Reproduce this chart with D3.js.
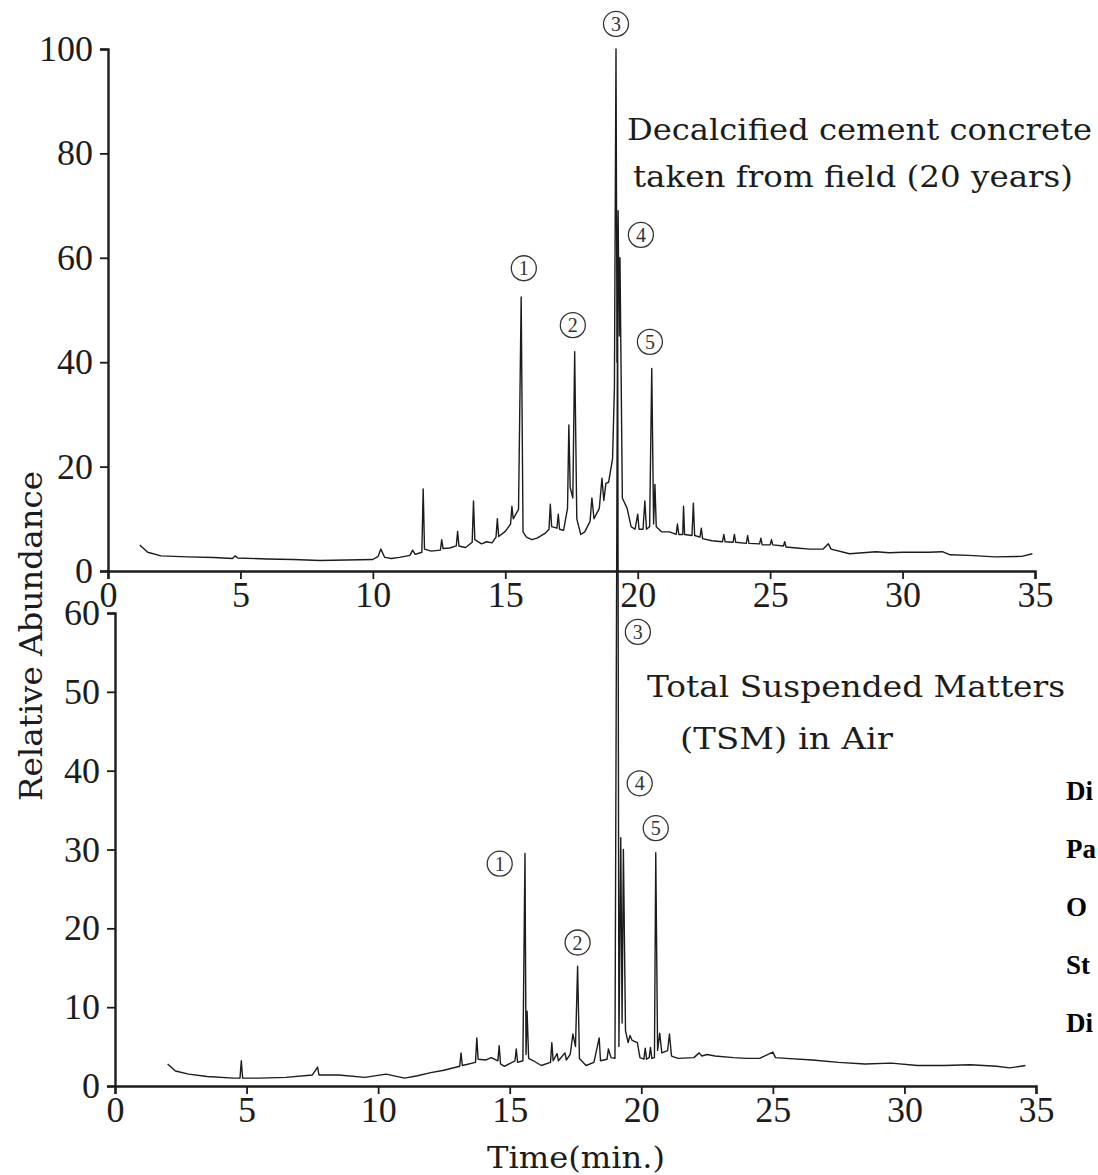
<!DOCTYPE html>
<html>
<head>
<meta charset="utf-8">
<script src="https://cdn.jsdelivr.net/npm/d3@7"></script>
<style>
  body { margin: 0; background: #fff; }
</style>
</head>
<body>
<script>
// Total ion chromatograms: decalcified concrete (top) and TSM in air (bottom)

const w = 1098;
const h = 1175;

// [time (min), relative abundance]
const topTrace = [
  [1.2,5.0],[1.5,3.6],[2.0,2.9],[3.0,2.7],[4.0,2.6],[4.7,2.4],[4.8,2.9],[4.9,2.5],
  [6.0,2.3],[7.0,2.2],[8.0,2.0],[9.0,2.1],[10.0,2.2],[10.2,2.8],[10.3,4.2],[10.45,2.6],
  [10.7,2.4],[11.0,2.6],[11.4,3.0],[11.5,4.0],[11.6,3.2],[11.85,3.6],[11.9,15.7],[11.95,4.2],
  [12.2,3.8],[12.55,4.0],[12.6,6.0],[12.65,4.3],[12.9,4.4],[13.15,4.8],[13.2,7.6],[13.25,4.8],
  [13.5,4.5],[13.75,5.5],[13.8,13.4],[13.85,6.0],[14.1,5.2],[14.3,5.6],[14.5,5.4],[14.65,6.5],
  [14.7,10.0],[14.75,6.6],[15.0,7.6],[15.2,9.0],[15.25,12.4],[15.3,10.0],[15.5,11.8],[15.6,52.5],
  [15.67,7.5],[15.8,6.5],[16.0,6.0],[16.2,6.3],[16.5,7.2],[16.65,8.0],[16.7,12.8],[16.75,8.5],
  [16.95,8.2],[17.0,10.9],[17.05,8.0],[17.2,7.8],[17.35,12.0],[17.4,28.0],[17.45,16.0],[17.55,14.0],
  [17.62,42.0],[17.7,10.0],[17.85,7.0],[18.0,7.5],[18.2,9.5],[18.27,14.0],[18.35,10.0],[18.55,12.0],
  [18.65,17.8],[18.72,13.5],[18.8,16.8],[18.9,17.0],[19.05,21.5],[19.12,35.0],[19.18,100],[19.22,40.0],
  [19.26,69.0],[19.3,45.0],[19.33,60.0],[19.42,14.0],[19.6,12.0],[19.75,8.5],[19.9,8.0],[20.0,10.9],
  [20.05,8.0],[20.2,8.0],[20.27,13.4],[20.33,8.0],[20.45,8.5],[20.53,38.8],[20.6,9.0],[20.65,16.6],
  [20.7,8.5],[20.9,7.5],[21.2,7.5],[21.45,7.0],[21.5,9.0],[21.55,7.0],[21.7,7.0],[21.73,12.4],
  [21.77,7.0],[22.05,6.8],[22.1,13.0],[22.15,6.8],[22.35,6.5],[22.4,8.2],[22.45,6.2],[22.8,5.8],
  [23.2,5.6],[23.25,7.0],[23.3,5.6],[23.6,5.5],[23.65,7.0],[23.7,5.5],[24.1,5.3],[24.15,6.8],
  [24.2,5.3],[24.6,5.2],[24.65,6.3],[24.7,5.0],[25.0,5.0],[25.05,6.0],[25.1,5.0],[25.5,4.8],
  [25.55,5.6],[25.6,4.6],[26.0,4.4],[26.5,4.2],[27.0,4.2],[27.2,5.2],[27.3,4.2],[28.0,3.3],
  [28.5,3.5],[29.0,3.7],[29.5,3.5],[30.0,3.6],[31.0,3.6],[31.5,3.7],[31.8,3.1],[32.5,3.0],
  [33.5,2.7],[34.5,2.8],[34.9,3.3]
];

const bottomTrace = [
  [2.0,2.8],[2.3,1.9],[2.8,1.5],[3.5,1.2],[4.5,1.0],[4.75,1.0],[4.8,3.2],[4.85,1.0],
  [5.5,1.0],[6.5,1.1],[7.5,1.4],[7.7,2.4],[7.75,1.4],[8.5,1.4],[9.5,1.1],[10.3,1.5],
  [11.0,1.0],[11.5,1.3],[12.0,1.7],[12.5,2.0],[13.1,2.5],[13.15,4.2],[13.2,2.6],[13.7,3.0],
  [13.75,6.1],[13.8,3.4],[14.1,3.3],[14.3,3.6],[14.55,3.2],[14.6,5.1],[14.65,2.8],[14.8,2.5],
  [15.2,3.2],[15.25,4.7],[15.3,3.0],[15.5,3.2],[15.58,29.5],[15.62,4.0],[15.66,9.5],[15.72,3.5],
  [15.9,3.2],[16.2,2.6],[16.55,3.0],[16.6,5.5],[16.65,3.2],[16.8,4.1],[16.85,3.2],[17.1,4.2],
  [17.15,3.3],[17.3,4.0],[17.4,6.6],[17.5,5.0],[17.58,15.2],[17.65,3.5],[17.9,2.6],[18.2,3.0],
  [18.4,6.1],[18.45,3.2],[18.7,3.4],[18.75,4.7],[18.85,3.6],[19.0,3.5],[19.1,100],[19.15,5.0],
  [19.22,31.5],[19.27,8.0],[19.32,30.0],[19.4,7.0],[19.5,5.5],[19.57,6.4],[19.65,5.8],[19.85,5.5],
  [19.95,3.6],[20.1,3.4],[20.15,4.8],[20.2,3.4],[20.3,3.6],[20.35,4.9],[20.4,3.5],[20.5,3.6],
  [20.55,29.6],[20.62,4.5],[20.7,6.7],[20.78,4.2],[21.0,4.5],[21.07,6.6],[21.15,3.8],[21.4,3.5],
  [22.0,3.6],[22.2,4.2],[22.3,3.8],[22.5,4.0],[22.8,3.8],[23.5,3.6],[24.0,3.5],[24.5,3.5],
  [25.0,4.3],[25.1,3.6],[25.5,3.5],[26.5,3.3],[27.5,3.0],[28.5,2.8],[29.5,2.9],[30.5,2.6],
  [31.5,2.6],[32.5,2.7],[33.5,2.5],[34.0,2.3],[34.6,2.6]
];

const xTicks = [0, 5, 10, 15, 20, 25, 30, 35];
const topYTicks = [0, 20, 40, 60, 80, 100];
const bottomYTicks = [0, 10, 20, 30, 40, 50, 60];

// peak numbers: [number, time, abundance]
const topPeakLabels = [["1",15.70,58.0],["2",17.55,47.1],["3",19.18,104.8],["4",20.12,64.4],["5",20.46,43.9]];
const bottomPeakLabels = [["1",14.62,28.2],["2",17.58,18.2],["3",19.87,57.6],["4",19.94,38.4],["5",20.55,32.7]];

const topTitle = ["Decalcified cement concrete", "taken from field (20 years)"];
const bottomTitle = ["Total Suspended Matters", "(TSM) in Air"];
const sideLabels = ["Di", "Pa", "O", "St", "Di"];

const svg = d3.select("body")
  .append("svg")
  .attr("width", w)
  .attr("height", h)
  .style("background", "#fff");

const x_top = d3.scaleLinear().domain([0, 35]).range([108, 1035]);
const y_top = d3.scaleLinear().domain([0, 100]).range([571, 49]);
const x_bot = d3.scaleLinear().domain([0, 35]).range([115, 1036]);
const y_bot = d3.scaleLinear().domain([0, 60]).range([1086, 613]);

const ink = "#1c1c1c";
const tickFont = "'Liberation Serif', serif";
const textFont = "'DejaVu Serif', serif";

function styleAxis(g) {
  g.select(".domain").attr("stroke", ink).attr("stroke-width", 2.4);
  g.selectAll(".tick line").attr("stroke", ink).attr("stroke-width", 1.8);
  g.selectAll(".tick text")
    .attr("fill", ink)
    .style("font-family", tickFont)
    .style("font-size", "36px");
}

function panel(trace, xs, ys, yTicks, labels) {
  svg.append("g")
    .attr("transform", `translate(0,${ys(0)})`)
    .call(d3.axisBottom(xs).tickValues(xTicks).tickSize(8).tickPadding(2))
    .call(styleAxis);

  svg.append("g")
    .attr("transform", `translate(${xs(0)},0)`)
    .call(d3.axisLeft(ys).tickValues(yTicks).tickSize(8).tickPadding(7))
    .call(styleAxis);

  const line = d3.line()
    .x(d => xs(d[0]))
    .y(d => ys(d[1]));

  svg.append("path")
    .datum(trace)
    .attr("d", line)
    .attr("fill", "none")
    .attr("stroke", ink)
    .attr("stroke-width", 1.4)
    .attr("stroke-linejoin", "round");

  const marks = svg.append("g").selectAll("g")
    .data(labels)
    .enter()
    .append("g")
    .attr("transform", d => `translate(${xs(d[1])},${ys(d[2])})`);

  marks.append("circle")
    .attr("r", 12.5)
    .attr("fill", "#fff")
    .attr("stroke", "#333")
    .attr("stroke-width", 1.3);

  marks.append("text")
    .attr("text-anchor", "middle")
    .attr("dy", "0.35em")
    .attr("fill", "#333")
    .style("font-family", tickFont)
    .style("font-size", "20px")
    .text(d => d[0]);
}

panel(topTrace, x_top, y_top, topYTicks, topPeakLabels);
panel(bottomTrace, x_bot, y_bot, bottomYTicks, bottomPeakLabels);

function addText(str, x, y, len) {
  svg.append("text")
    .attr("x", x)
    .attr("y", y)
    .attr("textLength", len)
    .attr("lengthAdjust", "spacingAndGlyphs")
    .attr("fill", ink)
    .style("font-family", textFont)
    .style("font-size", "30px")
    .text(str);
}

addText(topTitle[0], 627, 140, 465);
addText(topTitle[1], 633, 187, 440);
addText(bottomTitle[0], 647, 697, 418);
addText(bottomTitle[1], 680, 749, 213);
addText("Time(min.)", 487, 1168, 178);

svg.append("text")
  .attr("transform", "translate(42,636) rotate(-90)")
  .attr("text-anchor", "middle")
  .attr("textLength", 330)
  .attr("lengthAdjust", "spacingAndGlyphs")
  .attr("fill", ink)
  .style("font-family", textFont)
  .style("font-size", "31px")
  .text("Relative Abundance");

// bold labels at the right edge (kept inside the page)
svg.append("g").selectAll("text")
  .data(sideLabels)
  .enter()
  .append("text")
  .attr("x", 1066)
  .attr("y", (d, i) => 800 + i * 58)
  .attr("fill", "#000")
  .style("font-family", tickFont)
  .style("font-weight", "bold")
  .style("font-size", "27px")
  .text(d => d);
</script>
</body>
</html>
